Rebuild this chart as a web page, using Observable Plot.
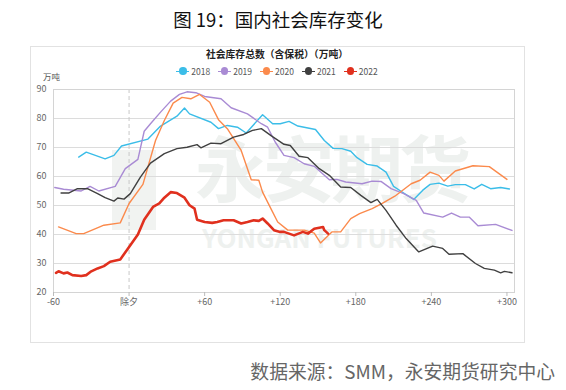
<!DOCTYPE html>
<html>
<head>
<meta charset="utf-8">
<script src="https://cdn.jsdelivr.net/npm/d3@7"></script>
<script src="https://cdn.jsdelivr.net/npm/@observablehq/plot@0.6"></script>
<style>
  html, body { margin: 0; padding: 0; background: #fff; }
  body { font-family: "Noto Sans CJK SC", "Noto Sans", sans-serif; }
  #wrap { position: relative; width: 566px; height: 390px; overflow: hidden; }
  .abs { position: absolute; white-space: nowrap; }
  #title { left: 0; width: 556px; top: 5px; text-align: center; font-size: 18.5px; color: #111; line-height: 28px; }
  #box { left: 30px; top: 46px; width: 493px; height: 295px; border: 1px solid #e2e2e2; }
  #ctitle { left: 30px; width: 494px; top: 47px; text-align: center; font-size: 9.8px; font-weight: bold; color: #222; line-height: 14px; }
  #legend { left: 30px; width: 494px; top: 64px; display: flex; justify-content: center; gap: 8px; font-size: 8.5px; color: #555; line-height: 14px; }
  .item { display: flex; align-items: center; gap: 2px; }
  .sw { position: relative; width: 13px; height: 14px; }
  .sw .ln { position: absolute; left: 0; top: 6.5px; width: 13px; height: 1.5px; }
  .sw .dt { position: absolute; left: 2.75px; top: 3.25px; width: 7.5px; height: 7.5px; border-radius: 50%; }
  #unit { left: 43px; top: 70px; font-size: 8.5px; color: #555; line-height: 12px; }
  #source { right: 11px; top: 358px; font-size: 18.8px; color: #666; line-height: 26px; }
  #wm1 { left: 195px; top: 122px; font-size: 72px; font-weight: bold; color: #eef1ef; letter-spacing: -4px; line-height: 86px; }
  #wm2 { left: 202px; top: 222px; font-size: 26px; font-weight: bold; color: #eef1ef; line-height: 30px; }
  #wmlogo { left: 112px; top: 150px; width: 44px; height: 80px; background: #f1f3f1; }
  #plot { position: absolute; left: 0; top: 0; }
</style>
</head>
<body>
<div id="wrap">
  <div class="abs" id="box"></div>
  <div class="abs" id="wmlogo"></div>
  <div class="abs" id="wm1">永安期货</div>
  <div class="abs" id="wm2">YONGAN FUTURES</div>
  <div class="abs" id="title">图 19：国内社会库存变化</div>
  <div class="abs" id="ctitle">社会库存总数（含保税）（万吨）</div>
  <div class="abs" id="legend"></div>
  <div class="abs" id="unit">万吨</div>
  <div id="plot"></div>
  <div class="abs" id="source">数据来源：SMM，永安期货研究中心</div>
</div>
<script>
// ---- data (days relative to 除夕, inventory in 万吨) ----
const seriesNames = ["2018", "2019", "2020", "2021", "2022"];
const seriesColors = ["#3bbde8", "#a98bd4", "#fb8a4c", "#404040", "#e0301e"];

const days2018 = [-40,-34,-19,-12,-6,15,25,38,44,48,65,71,78,86,93,106,114,120,127,134,148,155,162,169,176,181,189,197,204,210,218,226,233,239,246,253,259,267,274,280,287,295,302];
const vals2018 = [66.7,68.4,66.1,67.3,70.5,72.9,77.4,80.8,83.6,81.6,78.7,76.5,77.6,77,75,81.3,78.2,78.2,79,77.4,76.2,72.4,69.7,69.6,68.7,66.5,64.2,63.6,61.5,56.6,54.3,52.1,55.2,57.3,57.7,56.7,57.2,57.2,55.7,57.3,55.8,56.2,55.7];

const days2019 = [-59,-52,-38,-31,-24,-11,-3,7,12,17,25,33,40,46,53,60,73,81,94,105,110,116,123,131,139,147,159,165,172,185,193,200,208,218,228,234,249,256,263,270,277,291,304];
const vals2019 = [56.2,55.6,55,56.6,55,56.6,62.7,65.9,75.6,78.2,82.2,86,88.3,89.2,88.9,87.6,86.8,83.7,81.6,78.2,77,71.9,67.3,66.5,64.4,63.5,58.9,59,58.1,57.5,58.4,58.3,55.8,54.1,51.8,47.4,46,47.4,46,46,43,43.5,41.4];

const days2020 = [-56,-42,-36,-20,-7,0,11,21,28,35,42,49,56,64,71,78,89,97,103,106,113,118,126,139,147,152,161,168,176,183,193,201,211,224,231,239,246,250,259,273,286,300];
const vals2020 = [42.6,40.3,40.3,43.2,44,50.7,57.3,72.4,79.3,85.3,87.3,86.8,88.3,85.6,79.6,76.5,69,58.9,58.7,54.6,48.6,44.3,41.5,41.5,40.5,37.1,40.9,40.9,45.5,47.2,48.9,50.7,53.2,57.5,58.7,61.5,60.4,58.4,61.9,63.7,63.4,59];

const days2021 = [-54,-48,-41,-33,-25,-19,-12,-9,-4,1,9,17,28,38,46,54,57,65,73,83,91,98,105,113,123,128,135,142,151,159,168,176,184,192,197,204,212,220,230,241,249,254,265,275,282,290,295,298,304];
const vals2021 = [54.3,54.3,55.8,55.8,54.1,52.7,51.5,52.6,52.2,54.1,59.8,64.6,67.9,69.6,70.1,71,69.9,71.5,71.3,73.6,74.5,75.9,76.5,74,71.1,70.7,67,66.5,62.7,60.4,56.4,56.2,53.5,51,52.1,48.3,43.2,38.6,34,36,35.2,33.2,33.4,30,28.3,27.7,26.8,27.3,26.8];

const days2022 = [-58,-56,-52,-49,-45,-38,-34,-30,-25,-20,-15,-7,0,7,12,19,24,28,33,38,44,48,52,54,60,66,70,75,83,89,94,99,103,106,110,115,120,123,131,138,142,147,154,155,158];
const vals2022 = [26.8,27.3,26.6,26.9,26,25.7,26,27.3,28.3,29.1,30.6,31.4,35.7,40,45.1,49.5,50.7,52.7,54.6,54.3,52.7,50.1,48.9,45.1,44.3,44,44.3,44.9,44.9,43.8,44.3,44.9,44.7,45.5,43.8,41.5,40.9,40.9,39.7,40.9,40.3,42,42.6,41.5,40.3];

const xTicks = [-60, 0, 60, 120, 180, 240, 300];
const xTickLabels = ["-60", "除夕", "+60", "+120", "+180", "+240", "+300"];
const yTicks = [20, 30, 40, 50, 60, 70, 80, 90];
const eveDay = [0];

// ---- build table ----
const allDays = [days2018, days2019, days2020, days2021, days2022];
const allVals = [vals2018, vals2019, vals2020, vals2021, vals2022];
const rows = [];
seriesNames.forEach((name, i) => {
  allDays[i].forEach((d, j) => rows.push({year: name, day: d, value: allVals[i][j]}));
});

// ---- legend ----
const legend = document.getElementById("legend");
seriesNames.forEach((name, i) => {
  const it = document.createElement("div");
  it.className = "item";
  it.innerHTML = `<span class="sw"><span class="ln" style="background:${seriesColors[i]}"></span><span class="dt" style="background:${seriesColors[i]}"></span></span><span>${name}</span>`;
  legend.appendChild(it);
});

const chart = Plot.plot({
  width: 566,
  height: 390,
  marginLeft: 53,
  marginRight: 52,
  marginTop: 89,
  marginBottom: 98,
  style: {background: "transparent", fontFamily: "'Noto Sans CJK SC', sans-serif", fontSize: "9px", color: "#666", overflow: "visible"},
  x: {domain: [-60, 306], ticks: xTicks, tickFormat: d => xTickLabels[xTicks.indexOf(d)], tickSize: 4, tickPadding: 2, label: null},
  y: {domain: [20, 90], ticks: yTicks, tickSize: 0, tickPadding: 7, label: null},
  color: {domain: seriesNames, range: seriesColors},
  marks: [
    Plot.gridY(yTicks, {stroke: "#dcdcdc", strokeOpacity: 1, strokeWidth: 1}),
    Plot.ruleX(eveDay, {stroke: "#c8c8c8", strokeDasharray: "4,3", strokeWidth: 1}),
    Plot.frame({stroke: "#d4d4d4", strokeWidth: 1}),
    Plot.axisX({ticks: xTicks, tickFormat: d => xTickLabels[xTicks.indexOf(d)], tickSize: 4, tickPadding: 2, stroke: "#bbb", fill: "#666"}),
    Plot.axisY({ticks: yTicks, tickSize: 0, tickPadding: 7, fill: "#666"}),
    Plot.line(rows.filter(r => r.year !== "2022"), {x: "day", y: "value", z: "year", stroke: "year", strokeWidth: 1.4, curve: "linear"}),
    Plot.line(rows.filter(r => r.year === "2022"), {x: "day", y: "value", stroke: "year", strokeWidth: 2.6, curve: "linear"})
  ]
});
document.getElementById("plot").appendChild(chart);
</script>
</body>
</html>
